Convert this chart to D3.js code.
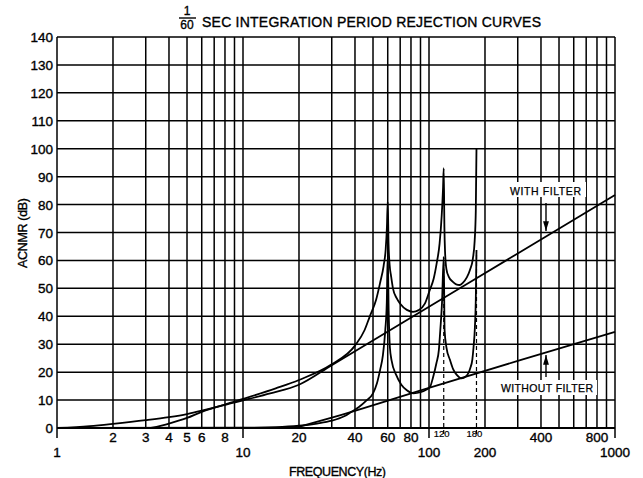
<!DOCTYPE html>
<html>
<head>
<meta charset="utf-8">
<script src="https://cdn.jsdelivr.net/npm/d3@7"></script>
<style>
  body { margin: 0; background: #fff; }
  text { font-family: "Liberation Sans", Arial, sans-serif; fill: #000; stroke: #000; stroke-width: 0.35px; }
</style>
</head>
<body>
<div id="chart"></div>
<script>
// Values: [frequency Hz, ACNMR dB]
var withFilterCurve = [
  [1, 0], [1.5, 0.7], [2, 1.5], [3, 2.8], [4, 3.9], [5, 5], [6, 6.2], [8, 8.4],
  [10, 10.4], [15, 14.2], [20, 17.2], [30, 22.8], [40, 29.5], [45, 35], [48, 39.9],
  [52, 46], [54.6, 52], [57, 58], [58.5, 64], [59.4, 72], [60, 81], [60.6, 66],
  [61.5, 58], [62.5, 54.5], [64, 50], [67, 46.5], [70, 44.5], [76, 42.3], [82, 41.6],
  [88, 42.2], [95, 44.5], [101, 49.4], [106, 53.5], [110, 59], [114, 66], [117, 76],
  [119, 86], [120, 93], [121, 72], [122, 63], [124, 57], [128, 54], [134, 52.4],
  [140, 51.4], [146, 51.2], [152, 52], [160, 54], [166, 56.6], [172, 60.5],
  [176, 67], [178.5, 78], [180, 100]
];

var withoutFilterCurve = [
  [1, 0], [10, 0.1], [15, 0.3], [20, 0.8], [25, 1.6], [30, 2.6], [35, 4.2],
  [38.3, 5.8], [42, 7.5], [46, 9.8], [50, 12.4], [52.5, 16], [54.6, 20.8],
  [56.5, 26], [58.2, 35], [59.3, 45], [60, 62], [60.7, 42], [61.6, 29], [63, 24],
  [66.6, 19], [71, 15.5], [76, 13.5], [82.6, 12.4], [90, 12.8], [96, 13.6],
  [101.4, 14.8], [105, 18], [109.6, 23.2], [113, 28], [115, 35], [117.5, 45],
  [120, 61.3], [121.3, 35], [124, 29], [129.8, 24.3], [135, 21], [141, 19],
  [149.4, 17.8], [158, 18.5], [166.6, 21.4], [171, 24.5], [173.6, 29],
  [176.5, 36], [178.5, 46], [180, 63.7]
];

var withFilterLine = [
  [3.2, 0], [4, 1.6], [5, 3.6], [6, 5.8], [8, 8.3], [10, 9.9], [14, 12.4],
  [20, 15.5], [30, 22.5], [100, 43.4], [300, 62.5], [1000, 83.4]
];

var withoutFilterLine = [
  [19, 0], [30, 3.7], [100, 14.4], [300, 24], [1000, 34.4]
];

var dashedMarks = [[120, 61], [180, 63]];

var yTicks = d3.range(0, 150, 10);
var xLabelsRow1 = [2, 3, 4, 5, 6, 8, 20, 40, 60, 80, 400, 800];
var xLabelsRow2 = [1, 10, 100, 200, 1000];
var xLabelsSmall = [120, 180];

var width = 643;
var height = 478;
var margin = {top: 37, right: 28, bottom: 50, left: 57};

var x_scale = d3.scaleLog()
                .domain([1, 1000])
                .range([margin.left, width - margin.right]);

var y_scale = d3.scaleLinear()
                .domain([0, 140])
                .range([height - margin.bottom, margin.top]);

var svg = d3.select('#chart')
            .append('svg')
            .attr('width', width)
            .attr('height', height);

// vertical grid: 1..10, 10..100, 100..1000
var xGrid = [];
[1, 10, 100].forEach(function(dec){
  for (var k = 1; k < 10; k++) xGrid.push(dec * k);
});
xGrid.push(1000);

svg.append('g')
   .selectAll('line')
   .data(xGrid)
   .enter()
   .append('line')
   .attr('x1', function(d){ return x_scale(d); })
   .attr('x2', function(d){ return x_scale(d); })
   .attr('y1', y_scale(140))
   .attr('y2', function(d){
     return [1, 10, 100, 1000].indexOf(d) >= 0 ? y_scale(0) + 10 : y_scale(0);
   })
   .attr('stroke', '#000')
   .attr('stroke-width', 1.5);

svg.append('g')
   .selectAll('line')
   .data(yTicks)
   .enter()
   .append('line')
   .attr('x1', x_scale(1))
   .attr('x2', x_scale(1000))
   .attr('y1', function(d){ return y_scale(d); })
   .attr('y2', function(d){ return y_scale(d); })
   .attr('stroke', '#000')
   .attr('stroke-width', function(d){ return d === 0 ? 2.2 : 1.5; });

// dashed marks at 120 and 180 Hz
svg.append('g')
   .selectAll('line')
   .data(dashedMarks)
   .enter()
   .append('line')
   .attr('x1', function(d){ return x_scale(d[0]); })
   .attr('x2', function(d){ return x_scale(d[0]); })
   .attr('y1', y_scale(0) + 6)
   .attr('y2', function(d){ return y_scale(d[1]); })
   .attr('stroke', '#000')
   .attr('stroke-width', 1.2)
   .attr('stroke-dasharray', '4,3');

// y labels
svg.append('g')
   .selectAll('text')
   .data(yTicks)
   .enter()
   .append('text')
   .text(function(d){ return d; })
   .attr('x', margin.left - 4)
   .attr('y', function(d){ return y_scale(d) + 5; })
   .attr('text-anchor', 'end')
   .style('font-size', '13.5px');

// x labels
svg.append('g')
   .selectAll('text')
   .data(xLabelsRow1)
   .enter()
   .append('text')
   .text(function(d){ return d; })
   .attr('x', function(d){ return x_scale(d); })
   .attr('y', y_scale(0) + 14)
   .attr('text-anchor', 'middle')
   .style('font-size', '13.5px');

svg.append('g')
   .selectAll('text')
   .data(xLabelsRow2)
   .enter()
   .append('text')
   .text(function(d){ return d; })
   .attr('x', function(d){ return x_scale(d); })
   .attr('y', y_scale(0) + 29)
   .attr('text-anchor', 'middle')
   .style('font-size', '13.5px');

svg.append('g')
   .selectAll('text')
   .data(xLabelsSmall)
   .enter()
   .append('text')
   .text(function(d){ return d; })
   .attr('x', function(d){ return x_scale(d) - 2; })
   .attr('y', y_scale(0) + 9)
   .attr('text-anchor', 'middle')
   .style('font-size', '9.5px')
   .style('stroke-width', '0.2px');

// curves
var line = d3.line()
             .x(function(d){ return x_scale(d[0]); })
             .y(function(d){ return y_scale(d[1]); })
             .curve(d3.curveMonotoneX);

[withFilterCurve, withoutFilterCurve, withFilterLine, withoutFilterLine].forEach(function(s){
  svg.append('path')
     .datum(s)
     .attr('d', line)
     .attr('fill', 'none')
     .attr('stroke', '#000')
     .attr('stroke-width', 1.8);
});

// annotations
function label(txt, x, y, len) {
  var t = svg.append('text')
     .text(txt)
     .attr('x', x)
     .attr('y', y)
     .style('font-size', '10.5px')
     .style('stroke-width', '0.25px');
  if (len) t.attr('textLength', len).attr('lengthAdjust', 'spacing');
  return t;
}

svg.append('rect').attr('x', 506).attr('y', 182).attr('width', 80).attr('height', 15).attr('fill', '#fff');
label('WITH FILTER', 510, 195, 71);
svg.append('rect').attr('x', 497).attr('y', 380).attr('width', 100).attr('height', 15).attr('fill', '#fff');
label('WITHOUT FILTER', 501, 392, 92);

svg.append('defs').append('marker')
   .attr('id', 'arr')
   .attr('viewBox', '0 0 10 10')
   .attr('refX', 10).attr('refY', 5)
   .attr('markerWidth', 7).attr('markerHeight', 7)
   .attr('orient', 'auto')
   .append('path')
   .attr('d', 'M0,2 L10,5 L0,8 Z')
   .attr('fill', '#000');

svg.append('line')
   .attr('x1', 546).attr('x2', 546).attr('y1', 203).attr('y2', 231)
   .attr('stroke', '#000').attr('stroke-width', 1.4)
   .attr('marker-end', 'url(#arr)');
svg.append('line')
   .attr('x1', 546).attr('x2', 546).attr('y1', 377).attr('y2', 355)
   .attr('stroke', '#000').attr('stroke-width', 1.4)
   .attr('marker-end', 'url(#arr)');

// titles
svg.append('text').text('1').attr('x', 187).attr('y', 15).attr('text-anchor', 'middle').style('font-size', '12px');
svg.append('line').attr('x1', 179).attr('x2', 196).attr('y1', 18).attr('y2', 18).attr('stroke', '#000').attr('stroke-width', 1.4);
svg.append('text').text('60').attr('x', 187).attr('y', 29).attr('text-anchor', 'middle').style('font-size', '12px');
svg.append('text')
   .text('SEC INTEGRATION PERIOD REJECTION CURVES')
   .attr('x', 202).attr('y', 27)
   .attr('textLength', 339).attr('lengthAdjust', 'spacing')
   .style('font-size', '14px');

svg.append('text')
   .text('FREQUENCY(Hz)')
   .attr('x', 289).attr('y', 476)
   .attr('textLength', 97).attr('lengthAdjust', 'spacing')
   .style('font-size', '12.5px');

svg.append('text')
   .text('ACNMR (dB)')
   .attr('transform', 'translate(27,268) rotate(-90)')
   .attr('textLength', 70).attr('lengthAdjust', 'spacing')
   .style('font-size', '12.5px');
</script>
</body>
</html>
